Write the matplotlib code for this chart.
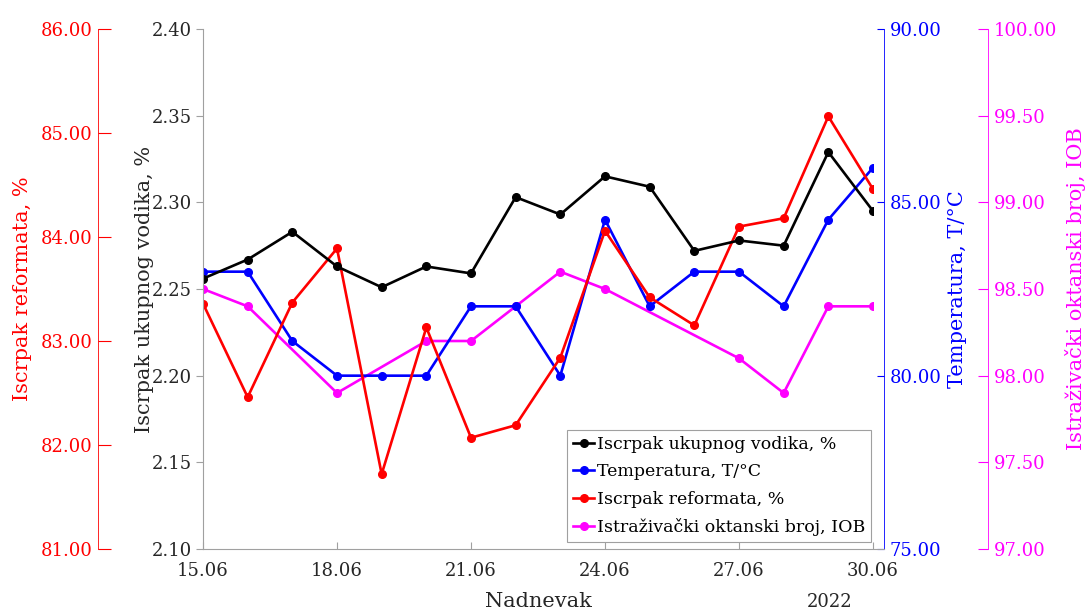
import numpy as np
import pandas as pd
import matplotlib
matplotlib.use("Agg")
import matplotlib.pyplot as plt
import matplotlib.dates as mdates
from matplotlib.lines import Line2D

plt.rcParams["font.family"] = ["DejaVu Serif"]

# Data
dates = ["2022-06-15", "2022-06-16", "2022-06-17", "2022-06-18", "2022-06-19",
         "2022-06-20", "2022-06-21", "2022-06-22", "2022-06-23", "2022-06-24",
         "2022-06-25", "2022-06-26", "2022-06-27", "2022-06-28", "2022-06-29",
         "2022-06-30"]
vodik = [2.256, 2.267, 2.283, 2.263, 2.251, 2.263, 2.259, 2.303, 2.293, 2.315,
         2.309, 2.272, 2.278, 2.275, 2.329, 2.295]
temperatura = [83, 83, 81, 80, 80, 80, 82, 82, 80, 84.5, 82, 83, 83, 82, 84.5, 86]
reformat = [83.36, 82.46, 83.37, 83.89, 81.72, 83.13, 82.07, 82.19, 82.84, 84.06,
            83.42, 83.15, 84.10, 84.18, 85.16, 84.46]
iob = [98.5, 98.4, None, 97.9, None, 98.2, 98.2, 98.4, 98.6, 98.5,
       None, None, 98.1, 97.9, 98.4, 98.4]

x_ticks = ["2022-06-15", "2022-06-18", "2022-06-21", "2022-06-24",
           "2022-06-27", "2022-06-30"]

x = pd.to_datetime(dates)
iob_arr = np.array([np.nan if v is None else v for v in iob])
ok = ~np.isnan(iob_arr)

BLUE = "#0000ff"
RED = "#ff0000"
MAG = "#ff00ff"
GRAY = "#262626"
LW = 1.9
MS = 5.5
TICK_FS = 13
LABEL_FS = 15

fig = plt.figure(figsize=(10.86, 6.11), dpi=100)
ax = fig.add_axes([203 / 1086, 62 / 611, 670 / 1086, 520 / 611])
ax_r = ax.twinx()
ax_t = ax.twinx()
ax_m = ax.twinx()

# draw order: magenta, blue, red, black
ax_m.set_zorder(1)
ax_t.set_zorder(2)
ax_r.set_zorder(3)
ax.set_zorder(4)
for a in (ax, ax_r, ax_t):
    a.patch.set_visible(False)

ax_m.plot(x[ok], iob_arr[ok], color=MAG, lw=LW, marker="o", ms=MS)
ax_t.plot(x, temperatura, color=BLUE, lw=LW, marker="o", ms=MS)
ax_r.plot(x, reformat, color=RED, lw=LW, marker="o", ms=MS)
ax.plot(x, vodik, color="black", lw=LW, marker="o", ms=MS)

ax.set_xlim(x[0], x[-1])
ax.set_xticks(pd.to_datetime(x_ticks))
ax.xaxis.set_major_formatter(mdates.DateFormatter("%d.%m"))

# main axis (hydrogen)
ax.set_ylim(2.10, 2.40)
ax.set_yticks(np.arange(2.10, 2.401, 0.05))
ax.yaxis.set_major_formatter(matplotlib.ticker.FormatStrFormatter("%.2f"))
ax.spines["top"].set_visible(False)
ax.spines["right"].set_visible(False)
ax.spines["left"].set_color("#a0a0a0")
ax.spines["bottom"].set_color("#a0a0a0")
ax.spines["bottom"].set_bounds(mdates.date2num(x[0]),
                               mdates.date2num(x[-1]) + 0.25)
ax.tick_params(axis="x", direction="in", length=5, color="#a0a0a0",
               labelsize=TICK_FS, labelcolor=GRAY, pad=9)
ax.tick_params(axis="y", direction="out", length=5, color="#a0a0a0",
               labelsize=TICK_FS, labelcolor=GRAY, pad=3)
ax.set_ylabel("Iscrpak ukupnog vodika, %", fontsize=LABEL_FS, color=GRAY,
              labelpad=-2)
ax.set_xlabel("Nadnevak", fontsize=LABEL_FS, color=GRAY, labelpad=9)
ax.text(0.935, -0.112, "2022", transform=ax.transAxes, fontsize=TICK_FS,
        color=GRAY, ha="center", va="baseline")

# red axis on the far left
ax_r.set_ylim(81, 86)
ax_r.set_yticks(np.arange(81, 86.1, 1))
ax_r.yaxis.set_major_formatter(matplotlib.ticker.FormatStrFormatter("%.2f"))
ax_r.spines["left"].set_position(("axes", -0.157))
ax_r.yaxis.set_ticks_position("left")
ax_r.yaxis.set_label_position("left")
for s in ("right", "top", "bottom"):
    ax_r.spines[s].set_visible(False)
ax_r.spines["left"].set_visible(True)
ax_r.spines["left"].set_color(RED)
ax_r.spines["left"].set_linewidth(0.6)
ax_r.tick_params(axis="y", direction="in", length=9, color=RED,
                 labelsize=TICK_FS, labelcolor=RED, pad=4)
ax_r.set_ylabel("Iscrpak reformata, %", fontsize=LABEL_FS, color=RED,
                labelpad=6)

# blue axis on the right
ax_t.set_ylim(75, 90)
ax_t.set_yticks(np.arange(75, 90.1, 5))
ax_t.yaxis.set_major_formatter(matplotlib.ticker.FormatStrFormatter("%.2f"))
ax_t.spines["right"].set_position(("axes", 1.0164))
for s in ("left", "top", "bottom"):
    ax_t.spines[s].set_visible(False)
ax_t.spines["right"].set_color(BLUE)
ax_t.spines["right"].set_linewidth(0.6)
ax_t.tick_params(axis="y", direction="in", length=5, color=BLUE,
                 labelsize=TICK_FS, labelcolor=BLUE, pad=4)
ax_t.set_ylabel("Temperatura, T/°C", fontsize=LABEL_FS, color=BLUE,
                labelpad=5)

# magenta axis far right
ax_m.set_ylim(97, 100)
ax_m.set_yticks(np.arange(97, 100.01, 0.5))
ax_m.yaxis.set_major_formatter(matplotlib.ticker.FormatStrFormatter("%.2f"))
ax_m.spines["right"].set_position(("axes", 1.1716))
for s in ("left", "top", "bottom"):
    ax_m.spines[s].set_visible(False)
ax_m.spines["right"].set_color(MAG)
ax_m.spines["right"].set_linewidth(0.6)
ax_m.tick_params(axis="y", direction="in", length=7, color=MAG,
                 labelsize=TICK_FS, labelcolor=MAG, pad=4)
ax_m.set_ylabel("Istraživački oktanski broj, IOB", fontsize=LABEL_FS,
                color=MAG, labelpad=6)

handles = [
    Line2D([], [], color="black", lw=LW, marker="o", ms=MS),
    Line2D([], [], color=BLUE, lw=LW, marker="o", ms=MS),
    Line2D([], [], color=RED, lw=LW, marker="o", ms=MS),
    Line2D([], [], color=MAG, lw=LW, marker="o", ms=MS),
]
labels = ["Iscrpak ukupnog vodika, %", "Temperatura, T/°C",
          "Iscrpak reformata, %", "Istraživački oktanski broj, IOB"]
leg = ax.legend(handles, labels, loc="lower right",
                bbox_to_anchor=(0.997, 0.013), borderaxespad=0,
                fontsize=12.5, frameon=True, fancybox=False, framealpha=1,
                edgecolor="#a0a0a0", handlelength=1.2, handletextpad=0.15,
                labelspacing=0.6, borderpad=0.35)
leg.get_frame().set_linewidth(0.8)

fig.savefig("out.png", dpi=100)
